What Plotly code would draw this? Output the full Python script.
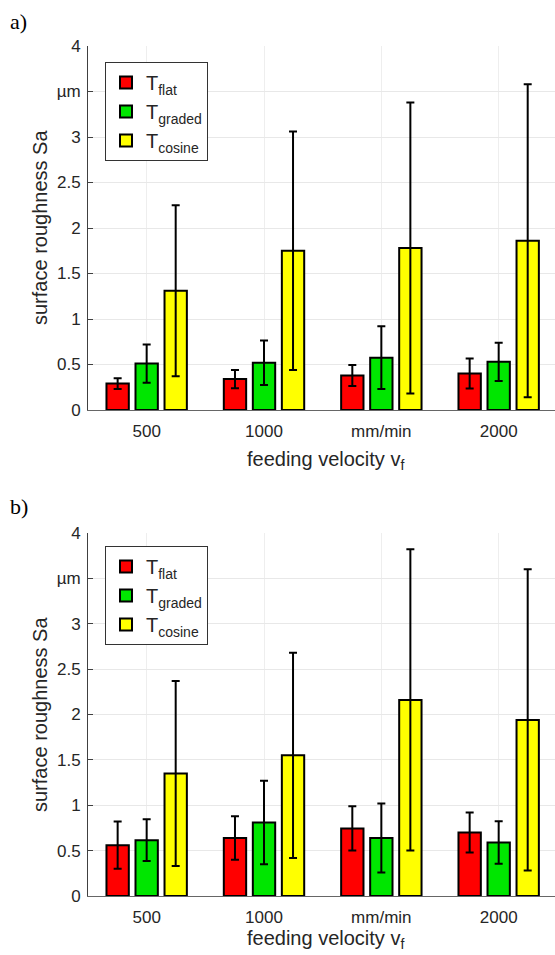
import plotly.graph_objects as go

# ---------------- data ----------------
categories = ["500", "1000", "mm/min", "2000"]
series_names = ["T<sub>flat</sub>", "T<sub>graded</sub>", "T<sub>cosine</sub>"]
series_colors = ["#ff0000", "#00e600", "#ffff00"]

# panel a)
flat_a = [0.29, 0.34, 0.38, 0.40]
flat_a_err = [0.06, 0.10, 0.115, 0.165]
graded_a = [0.51, 0.52, 0.575, 0.53]
graded_a_err = [0.21, 0.245, 0.345, 0.21]
cosine_a = [1.31, 1.75, 1.78, 1.86]
cosine_a_err = [0.94, 1.31, 1.60, 1.72]

# panel b)
flat_b = [0.56, 0.64, 0.745, 0.70]
flat_b_err = [0.26, 0.24, 0.245, 0.22]
graded_b = [0.615, 0.81, 0.64, 0.59]
graded_b_err = [0.23, 0.46, 0.38, 0.235]
cosine_b = [1.35, 1.55, 2.16, 1.94]
cosine_b_err = [1.02, 1.13, 1.66, 1.66]

y_tickvals = [0, 0.5, 1, 1.5, 2, 2.5, 3, 3.5, 4]
y_ticktext = ["0", "0.5", "1", "1.5", "2", "2.5", "3", "µm", "4"]

W, H = 555, 955
FONT = "Liberation Sans, Arial, sans-serif"

def px_x(p):
    return p / W

def px_y(p):
    return 1 - p / H

fig = go.Figure()

panels = [
    ([flat_a, graded_a, cosine_a], [flat_a_err, graded_a_err, cosine_a_err], "x", "y", "legend"),
    ([flat_b, graded_b, cosine_b], [flat_b_err, graded_b_err, cosine_b_err], "x2", "y2", "legend2"),
]

for vals_list, errs_list, xa, ya, lg in panels:
    for name, color, vals, errs in zip(series_names, series_colors, vals_list, errs_list):
        fig.add_trace(go.Bar(
            x=categories, y=vals, name=name,
            marker=dict(color=color, line=dict(color="black", width=2)),
            error_y=dict(type="data", array=errs, visible=True,
                         color="black", thickness=2, width=4),
            xaxis=xa, yaxis=ya, legend=lg,
        ))

axis_common_x = dict(
    range=[-0.5, 3.48], showline=True, linecolor="#666666", linewidth=1,
    showgrid=True, gridcolor="#eeeeee", ticks="", automargin=False,
    ticklabelstandoff=6,
    tickfont=dict(family=FONT, size=17, color="#262626"),
)
axis_common_y = dict(
    range=[0, 4], tickvals=y_tickvals, ticktext=y_ticktext,
    showline=True, linecolor="#404040", linewidth=1,
    ticks="inside", ticklen=5, tickcolor="#404040",
    showgrid=True, gridcolor="#e8e8e8", zeroline=False, automargin=False,
    ticklabelstandoff=3,
    tickfont=dict(family=FONT, size=17, color="#262626"),
)

legend_common = dict(xanchor="left", yanchor="top",
                     bgcolor="white", bordercolor="#333333", borderwidth=1,
                     font=dict(family=FONT, size=20, color="#262626"),
                     tracegroupgap=0)

dom_x = [px_x(88), 1.0]
fig.update_layout(
    width=W, height=H,
    margin=dict(l=0, r=0, t=0, b=0),
    paper_bgcolor="white", plot_bgcolor="white",
    barmode="group", bargap=0.258, bargroupgap=0.23,
    xaxis=dict(domain=dom_x, anchor="y", **axis_common_x),
    yaxis=dict(domain=[px_y(410), px_y(46)], anchor="x", **axis_common_y),
    xaxis2=dict(domain=dom_x, anchor="y2", **axis_common_x),
    yaxis2=dict(domain=[px_y(896), px_y(533)], anchor="x2", **axis_common_y),
    legend=dict(x=px_x(105), y=px_y(62), **legend_common),
    legend2=dict(x=px_x(105), y=px_y(546), **legend_common),
    showlegend=True,
)

annotations = []
for label, ly in [("a)", 22), ("b)", 506)]:
    annotations.append(dict(text=label, x=px_x(8), y=px_y(ly), xref="paper", yref="paper",
                            xanchor="left", yanchor="middle", showarrow=False,
                            font=dict(family="Liberation Serif, Times New Roman, serif",
                                      size=22, color="black")))
for cy in [228, 715]:
    annotations.append(dict(text="surface roughness Sa", x=px_x(40), y=px_y(cy),
                            xref="paper", yref="paper", textangle=-90,
                            xanchor="center", yanchor="middle", showarrow=False,
                            font=dict(family=FONT, size=20, color="#262626")))
for ty in [461, 939]:
    annotations.append(dict(text="feeding velocity v<sub>f</sub>", x=px_x(325), y=px_y(ty),
                            xref="paper", yref="paper",
                            xanchor="center", yanchor="middle", showarrow=False,
                            font=dict(family=FONT, size=20, color="#262626")))
fig.update_layout(annotations=annotations)

fig.write_html("out.html",
               config={"displayModeBar": False},
               post_script="document.body.style.margin='0';document.body.style.padding='0';")
